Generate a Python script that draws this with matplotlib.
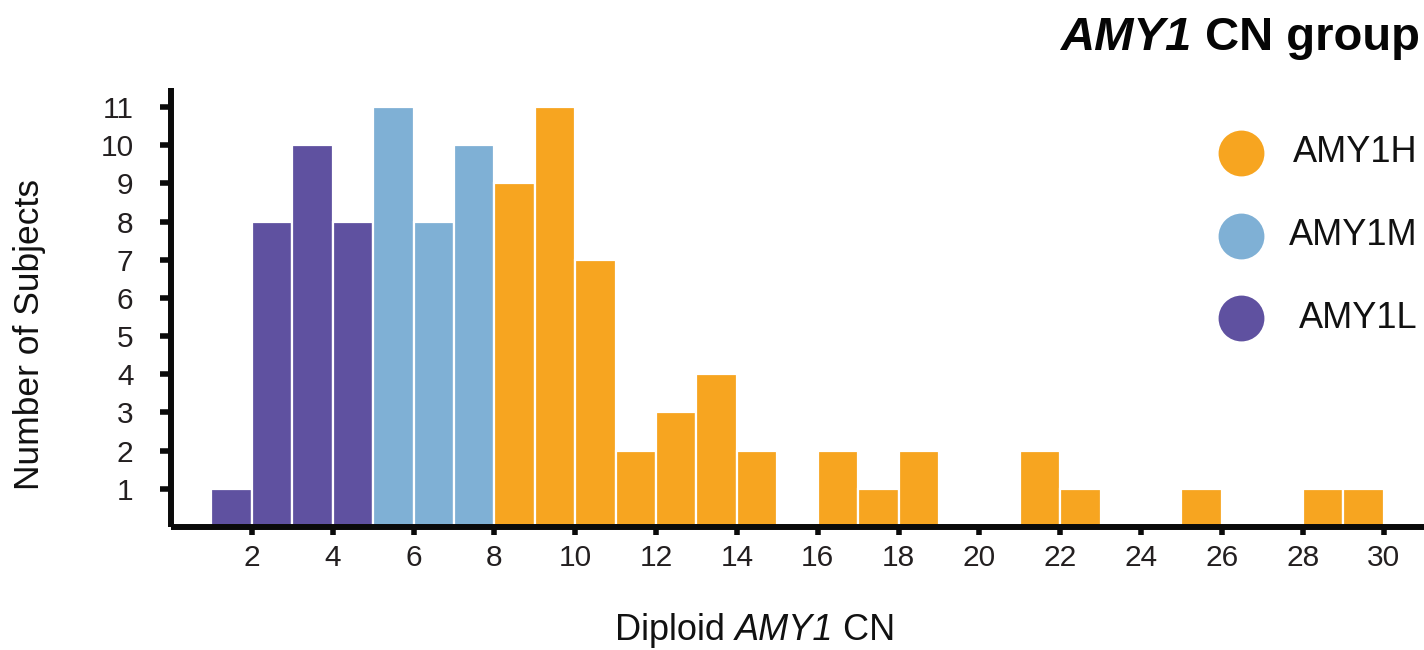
import matplotlib
matplotlib.use("Agg")
import matplotlib.pyplot as plt
from matplotlib.lines import Line2D

# diploid AMY1 copy number bins (left edge) and subject counts
cn_left = [1, 2, 3, 4, 5, 6, 7, 8, 9, 10, 11, 12, 13, 14, 16, 17, 18, 21, 22, 25, 28, 29]
counts = [1, 8, 10, 8, 11, 8, 10, 9, 11, 7, 2, 3, 4, 2, 2, 1, 2, 2, 1, 1, 1, 1]
groups = ["L", "L", "L", "L", "M", "M", "M", "H", "H", "H", "H", "H", "H", "H",
          "H", "H", "H", "H", "H", "H", "H", "H"]

group_colors = {"H": "#F7A520", "M": "#7FB0D5", "L": "#5F51A0"}
legend_order = [("H", "AMY1H"), ("M", "AMY1M"), ("L", "AMY1L")]

plt.rcParams["font.family"] = ["Liberation Sans", "DejaVu Sans"]

W, H = 1424, 650
fig = plt.figure(figsize=(W / 100, H / 100), dpi=100)
ax = fig.add_axes([171 / W, (H - 527) / H, 1 - 171 / W, (527 - 88) / H])

ax.bar(cn_left, counts, width=1.0, align="edge",
       color=[group_colors[g] for g in groups], edgecolor="white", linewidth=1.6)

ax.set_xlim(0, 31)
ax.set_ylim(0, 11.5)
ax.set_xticks(range(2, 31, 2))
ax.set_yticks(range(1, 12))

for s in ["top", "right"]:
    ax.spines[s].set_visible(False)
for s in ["left", "bottom"]:
    ax.spines[s].set_linewidth(4.3)
    ax.spines[s].set_color("#0a0a0a")
    ax.spines[s].set_capstyle("butt")

ax.tick_params(axis="y", length=8, width=4, color="#0a0a0a", pad=19,
               labelsize=21.5, labelcolor="#231F20")
ax.tick_params(axis="x", length=6, width=4, color="#0a0a0a", pad=6,
               labelsize=21.5, labelcolor="#231F20")

fig.text(30 / W, 1 - 335 / H, "Number of Subjects", rotation=90,
         ha="center", va="center", fontsize=25.5, color="#111111")

# x label: "Diploid " + italic "AMY1" + " CN", chained so the pieces touch
xl_mid = fig.text(784 / W, 1 - 630 / H, "AMY1", ha="center", va="center",
                  fontsize=26, style="italic", color="#111111")
ax.annotate("Diploid ", xy=(0, 0), xycoords=xl_mid, ha="right", va="bottom",
            fontsize=26, color="#111111", annotation_clip=False)
ax.annotate(" CN", xy=(1, 0), xycoords=xl_mid, ha="left", va="bottom",
            fontsize=26, color="#111111", annotation_clip=False)

# title: bold italic "AMY1" + bold " CN group", right aligned
t_right = fig.text(1420 / W, 1 - 38 / H, " CN group", ha="right", va="center",
                   fontsize=34, fontweight="bold", color="#050505")
ax.annotate("AMY1", xy=(0, 0), xycoords=t_right, ha="right", va="bottom",
            fontsize=34, fontweight="bold", style="italic", color="#050505",
            annotation_clip=False)

for i, (g, label) in enumerate(legend_order):
    yc = 1 - (153 + 82.5 * i) / H
    fig.add_artist(Line2D([1241 / W], [yc], marker="o", markersize=33,
                          markerfacecolor=group_colors[g], markeredgewidth=0,
                          linestyle="none", transform=fig.transFigure))
    fig.text(1418 / W, yc, label, ha="right", va="center",
             fontsize=26, color="#111111")

fig.savefig("out.png", dpi=100)
